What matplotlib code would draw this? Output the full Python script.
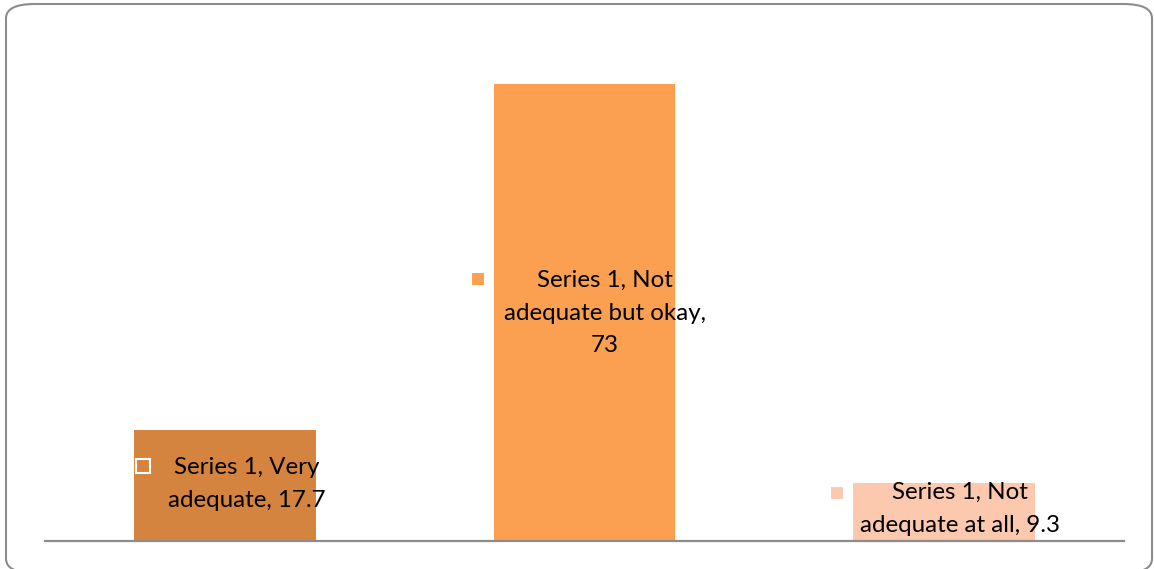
import numpy as np
import matplotlib.pyplot as plt
from matplotlib.patches import FancyBboxPatch

categories = ['Very adequate', 'Not adequate but okay', 'Not adequate at all']
values = [17.7, 73, 9.3]
labels = ['Series 1, Very\nadequate, 17.7',
          'Series 1, Not\nadequate but okay,\n73',
          'Series 1, Not\nadequate at all, 9.3']
colors = ['#D5843F', '#FBA050', '#FCC8AE']

plt.rcParams['font.family'] = ['Lato', 'DejaVu Sans']

fig = plt.figure(figsize=(11.54, 5.69), dpi=100)
ax = fig.add_axes([45 / 1154, 28 / 569, 1079 / 1154, 501 / 569])

x = np.arange(len(values))
ax.bar(x, values, width=0.506, color=colors, zorder=2)

# label placement (offsets from bar centre, in data units)
text_dx = [0.062, 0.057, 0.044]
text_y = [9.1, 36.4, 5.1]
key_dx = [-0.228, -0.296, -0.298]
key_y = [12.0, 41.9, 7.7]
for i in range(len(values)):
    ax.text(x[i] + text_dx[i], text_y[i], labels[i], ha='center', va='center',
            fontsize=17.4, color='black', linespacing=1.68, zorder=4)
    ax.plot(x[i] + key_dx[i], key_y[i], marker='s', markersize=10,
            color=colors[i], markeredgecolor='white', markeredgewidth=1.5,
            zorder=3)

ax.set_xlim(-0.5, 2.5)
ax.set_ylim(0, 80)
for s in ['top', 'right', 'left']:
    ax.spines[s].set_visible(False)
ax.spines['bottom'].set_color('#8c8c8c')
ax.spines['bottom'].set_linewidth(1.6)
ax.set_xticks([])
ax.set_yticks([])

border = FancyBboxPatch((6 / 1154, -4 / 569), 1146 / 1154, 569 / 569,
                        boxstyle='round,pad=0,rounding_size=0.025',
                        transform=fig.transFigure, fill=False,
                        edgecolor='#8c8c8c', linewidth=1.5)
fig.patches.append(border)

fig.savefig('out.png', dpi=100)
